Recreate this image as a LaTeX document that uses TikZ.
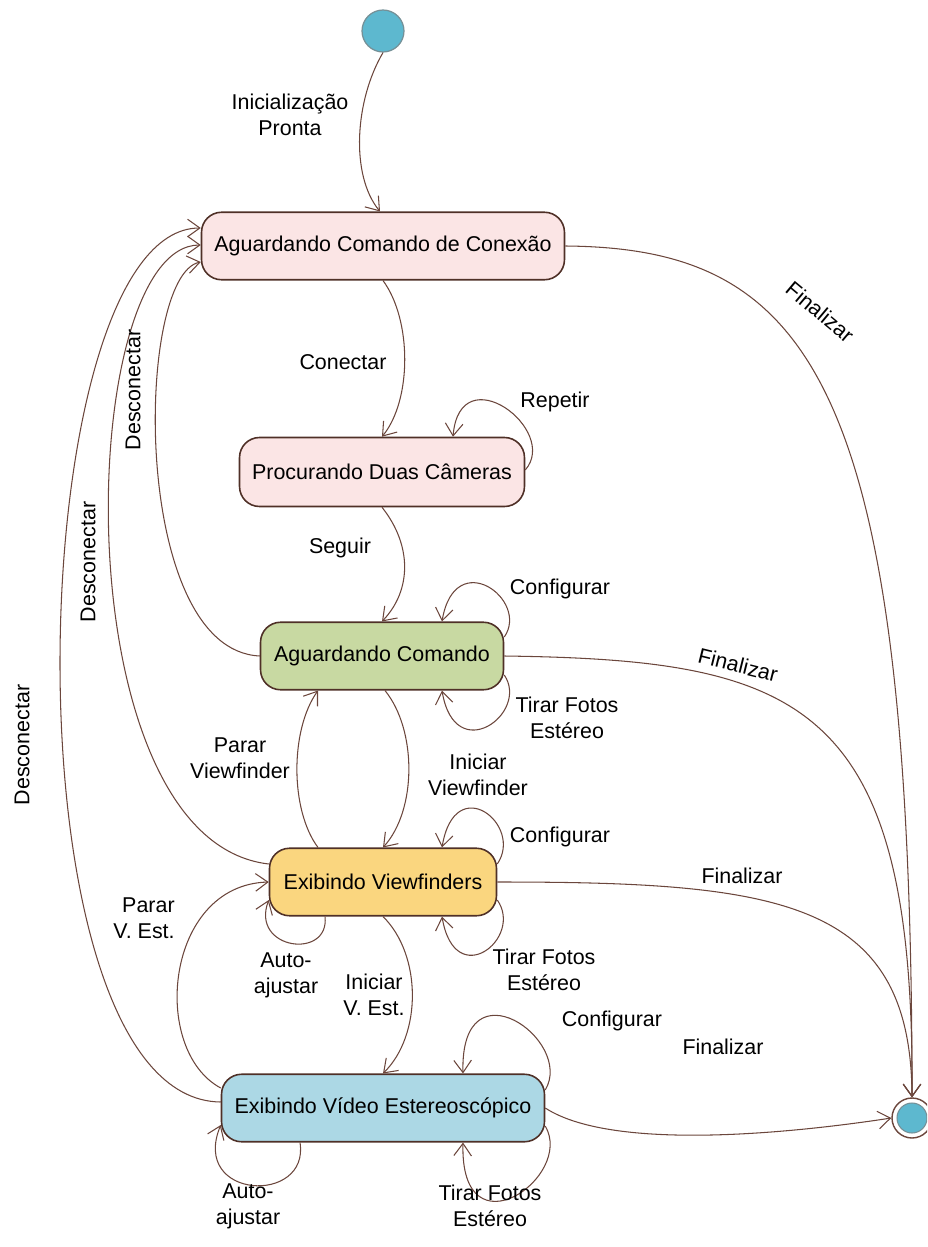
\documentclass[tikz,border=0pt]{standalone}
\usepackage{fontspec}
\setmainfont{Liberation Sans}
\usetikzlibrary{arrows.meta,calc}
\definecolor{rosa}{HTML}{FBE5E5}
\definecolor{verde}{HTML}{C8D9A2}
\definecolor{amarelo}{HTML}{FAD67F}
\definecolor{azul}{HTML}{ACD8E5}
\definecolor{bola}{HTML}{5DB8CF}
\definecolor{borda}{HTML}{4F3027}
\definecolor{linha}{HTML}{6B463C}
\tikzset{
  estado/.style={draw=borda, line width=0.9pt, rounded corners=0.4cm, minimum height=1.35cm, font=\fontsize{12.2}{14.8}\selectfont},
  rotulo/.style={font=\fontsize{12.2}{14.8}\selectfont, align=center, inner sep=0pt},
  trans/.style={draw=linha, line width=0.6pt, ->},
  >={Straight Barb[length=7pt,width=10pt]}
}
\begin{document}
\begin{tikzpicture}[x=0.02cm, y=-0.02cm]
                \clip (0,0) rectangle (927,1247);
                % estados
                \node[circle, draw=gray!70!bola, fill=bola, line width=0.7pt, minimum size=0.84cm] (inicio) at (383,31) {};
                \node[estado, fill=rosa, minimum width=7.26cm] (conexao) at (383,246) {Aguardando Comando de Conexão};
                \node[estado, fill=rosa, minimum width=5.7cm, minimum height=1.38cm] (procurando) at (382,472) {Procurando Duas Câmeras};
                \node[estado, fill=verde, minimum width=4.86cm] (comando) at (382,656) {Aguardando Comando};
                \node[estado, fill=amarelo, minimum width=4.54cm] (viewf) at (383,882) {Exibindo Viewfinders};
                \node[estado, fill=azul, minimum width=6.46cm] (video) at (383,1108) {Exibindo Vídeo Estereoscópico};
                \node[circle, draw=linha, fill=white, line width=0.8pt, minimum size=0.8cm] (fim) at (912,1118) {};
                \draw[draw=gray!70!bola, fill=bola, line width=0.6pt] (fim) circle (0.3cm);
                % transicoes
                \draw[trans] (inicio.south) .. controls (355,100) and (350,175) .. ($(conexao.north)+(-3,0)$);
                \draw[trans] (conexao.south) .. controls (412,320) and (412,400) .. (procurando.north);
                \draw[trans] ($(procurando.east)+(0,-2)$) .. controls (560,430) and (460,355) .. ($(procurando.north)+(71,0)$);
                \draw[trans] (procurando.south) .. controls (412,545) and (412,590) .. (comando.north);
                \draw[trans] ($(comando.east)+(0,-19)$) .. controls (530,600) and (455,545) .. ($(comando.north)+(60,0)$);
                \draw[trans] ($(comando.east)+(0,19)$) .. controls (530,713) and (455,768) .. ($(comando.south)+(60,0)$);
                \draw[trans] (conexao.east) .. controls (810,248) and (912,380) .. (fim.north);
                \draw[trans] (comando.east) .. controls (800,660) and (915,700) .. (fim.north);
                \draw[trans] (viewf.east) .. controls (780,882) and (911,900) .. (fim.north);
                \draw[trans] (video.east) .. controls (610,1150) and (780,1135) .. (fim.west);
                \draw[trans] (comando.west) .. controls (130,650) and (135,275) .. ($(conexao.west)+(0,16)$);
                \draw[trans] ($(viewf.west)+(0,-18)$) .. controls (60,840) and (75,245) .. ($(conexao.west)+(0,-1)$);
                \draw[trans] ($(video.west)+(0,-6)$) .. controls (0,1100) and (20,228) .. ($(conexao.west)+(0,-18)$);
                \draw[trans] ($(viewf.north)+(-65,0)$) .. controls (290,810) and (290,730) .. ($(comando.south)+(-64,0)$);
                \draw[trans] ($(comando.south)+(3,0)$) .. controls (417,730) and (417,810) .. (viewf.north);
                \draw[trans] ($(viewf.east)+(0,-18)$) .. controls (524,825) and (455,770) .. ($(viewf.north)+(59,0)$);
                \draw[trans] ($(viewf.east)+(0,18)$) .. controls (524,938) and (455,993) .. ($(viewf.south)+(59,0)$);
                \draw[trans] ($(viewf.south)+(-58,0)$) .. controls (330,960) and (250,950) .. ($(viewf.west)+(0,18)$);
                \draw[trans] ($(video.west)+(0,-20)$) .. controls (150,1050) and (165,885) .. (viewf.west);
                \draw[trans] (viewf.south) .. controls (422,955) and (422,1035) .. (video.north);
                \draw[trans] ($(video.east)+(0,-18)$) .. controls (575,1040) and (460,960) .. ($(video.north)+(80,0)$);
                \draw[trans] ($(video.east)+(0,18)$) .. controls (575,1177) and (460,1257) .. ($(video.south)+(80,0)$);
                \draw[trans] ($(video.south)+(-83,0)$) .. controls (310,1205) and (190,1200) .. ($(video.west)+(0,17)$);
                % rotulos
                \node[rotulo] (pronta) at (290,115) {Inicialização\\Pronta};
                \node[rotulo] (conectar) at (343,362) {Conectar};
                \node[rotulo] (repetir) at (555,402) {Repetir};
                \node[rotulo] (seguir) at (340,548) {Seguir};
                \node[rotulo] (config1) at (560,589) {Configurar};
                \node[rotulo] (fotos1) at (567,718) {Tirar Fotos\\Estéreo};
                \node[rotulo, rotate=-40] (final1) at (820,312) {Finalizar};
                \node[rotulo, rotate=-14] (final2) at (738,665) {Finalizar};
                \node[rotulo, rotate=90] (descon1) at (133,390) {Desconectar};
                \node[rotulo, rotate=90] (descon2) at (88,562) {Desconectar};
                \node[rotulo, rotate=90] (descon3) at (22,745) {Desconectar};
                \node[rotulo] (pararvf) at (240,758) {Parar\\Viewfinder};
                \node[rotulo] (iniciarvf) at (478,775) {Iniciar\\Viewfinder};
                \node[rotulo] (config2) at (560,837) {Configurar};
                \node[rotulo] (final3) at (742,876) {Finalizar};
                \node[rotulo] (fotos2) at (544,970) {Tirar Fotos\\Estéreo};
                \node[rotulo] (auto1) at (286,975) {Auto-\\ajustar};
                \node[rotulo, align=right, anchor=east] (pararve) at (175,918) {Parar\\V. Est.};
                \node[rotulo] (iniciarve) at (374,995) {Iniciar\\V. Est.};
                \node[rotulo] (config3) at (612,1021) {Configurar};
                \node[rotulo] (final4) at (723,1047) {Finalizar};
                \node[rotulo] (fotos3) at (490,1206) {Tirar Fotos\\Estéreo};
                \node[rotulo] (auto2) at (248,1206) {Auto-\\ajustar};
            \end{tikzpicture}
\end{document}
